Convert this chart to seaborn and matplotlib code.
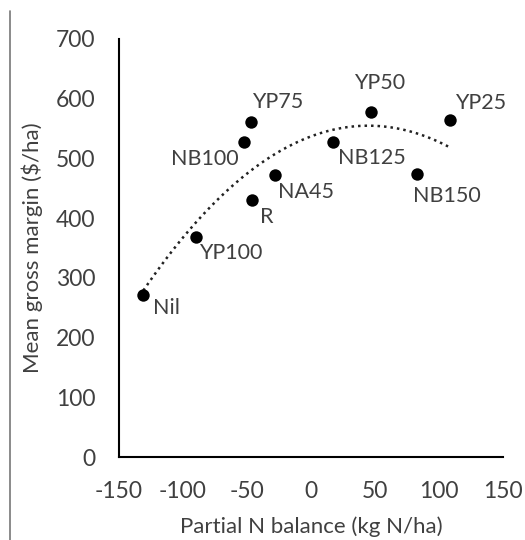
import numpy as np
import pandas as pd
import seaborn as sns
import matplotlib
matplotlib.use('Agg')
import matplotlib.pyplot as plt
from matplotlib.lines import Line2D

# treatments
labels = ["Nil", "YP100", "R", "NB100", "YP75", "NA45", "NB125", "YP50", "NB150", "YP25"]
n_balance = [-131, -90, -46, -52, -47, -28, 17, 47, 83, 109]
gross_margin = [271, 368, 431, 527, 561, 472, 527, 577, 474, 565]

# label offsets in points (dx, dy, ha, va)
offsets = {
    "Nil": (7, -2, "left", "top"),
    "YP100": (2, -4, "left", "top"),
    "R": (6, -5, "left", "top"),
    "NB100": (-4, -5, "right", "top"),
    "YP75": (1, 7, "left", "bottom"),
    "NA45": (2, -5, "left", "top"),
    "NB125": (4, -4, "left", "top"),
    "YP50": (6, 14, "center", "bottom"),
    "NB150": (-3, -9, "left", "top"),
    "YP25": (3, 5, "left", "bottom"),
}

df = pd.DataFrame({"x": n_balance, "y": gross_margin, "lab": labels})

sns.set_style("white")
plt.rcParams['font.family'] = ['Lato', 'DejaVu Sans']
plt.rcParams['axes.unicode_minus'] = False

fig = plt.figure(figsize=(5.25, 5.4), dpi=100)
ax = fig.add_axes([0.2267, 0.1537, 0.7313, 0.7741])

# polynomial trend (order 2), dotted
sns.regplot(data=df, x="x", y="y", order=2, ci=None, scatter=False, ax=ax,
            line_kws=dict(color="#222222", lw=1.8, linestyle=(0, (1, 1.6))))
sns.scatterplot(data=df, x="x", y="y", ax=ax, color="black", s=80,
                edgecolor="black", linewidth=0, zorder=3)

for lab, x, y in zip(labels, n_balance, gross_margin):
    dx, dy, ha, va = offsets[lab]
    ax.annotate(lab, (x, y), xytext=(dx, dy), textcoords="offset points",
                ha=ha, va=va, fontsize=15.5, color="#404040")

ax.set_xlim(-150, 150)
ax.set_ylim(0, 700)
ax.set_xticks(np.arange(-150, 151, 50))
ax.set_yticks(np.arange(0, 701, 100))
ax.set_xlabel("Partial N balance (kg N/ha)", fontsize=16, color="#404040", labelpad=11)
ax.set_ylabel(r"Mean gross margin (\$/ha)", fontsize=16, color="#404040", labelpad=9)

sns.despine(ax=ax)
for s in ["left", "bottom"]:
    ax.spines[s].set_color("black")
    ax.spines[s].set_linewidth(1.5)
ax.tick_params(direction="in", length=6, width=1.5, colors="black",
               labelcolor="#404040", labelsize=16.5)
ax.tick_params(axis="x", pad=17)
ax.tick_params(axis="y", pad=17)

# thin frame line at the left edge of the picture
fig.add_artist(Line2D([0.019, 0.019], [0, 0.98], color="#777777", lw=1.2,
                      transform=fig.transFigure))

fig.savefig("out.png", dpi=100)
